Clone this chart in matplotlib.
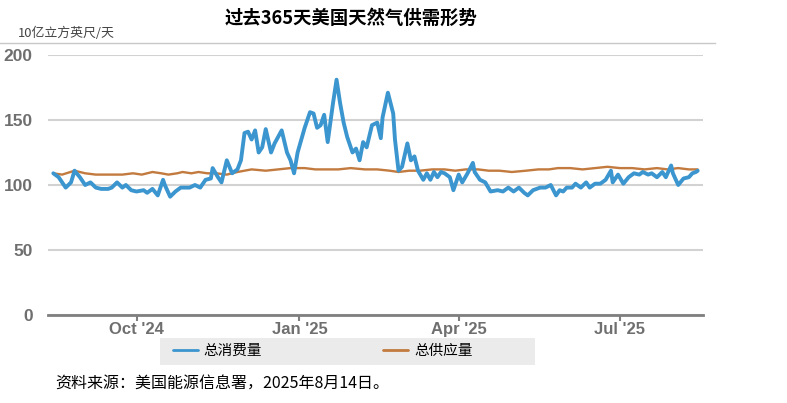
import numpy as np
import pandas as pd
import matplotlib
matplotlib.use('Agg')
import matplotlib.pyplot as plt
import matplotlib.dates as mdates
from matplotlib.patches import Rectangle

#**********************************************
''' data read off the chart (bcf/day) '''
#**********************************************
start = pd.Timestamp('2024-08-15')

# total consumption: day offset from start, value
demand_day = [0, 3, 7, 10, 12, 15, 18, 21, 24, 27, 31, 33, 36, 39, 41, 44, 47, 51,
              53, 56, 59, 62, 63, 66, 69, 72, 75, 77, 80, 83, 86, 89, 90, 93, 95,
              98, 101, 104, 106, 108, 110, 112, 114, 116, 118, 120, 123, 125, 129,
              132, 134, 136, 138, 142, 145, 147, 149, 151, 153, 155, 158, 160, 162,
              164, 166, 169, 171, 173, 175, 177, 180, 183, 185, 186, 189, 192, 193,
              195, 197, 200, 202, 204, 206, 209, 211, 213, 215, 217, 219, 221, 224,
              226, 229, 231, 234, 237, 238, 241, 244, 247, 251, 254, 257, 260, 263,
              266, 268, 271, 275, 278, 281, 284, 286, 288, 290, 293, 295, 298, 301,
              303, 306, 309, 312, 315, 316, 319, 322, 325, 328, 331, 333, 336, 338,
              341, 344, 346, 349, 350, 353, 356, 359, 361, 363, 364]
demand = [109, 106, 98, 102, 111, 106, 100, 102, 98, 97, 97, 98, 102, 98, 100, 96,
          95, 96, 94, 97, 92, 104, 100, 91, 95, 98, 98, 98, 100, 98, 104, 105, 113,
          106, 102, 119, 109, 112, 119, 140, 141, 135, 142, 125, 129, 143, 125, 132,
          142, 125, 119, 109, 125, 144, 156, 155, 144, 146, 154, 133, 163, 181, 163,
          148, 137, 125, 128, 119, 133, 129, 146, 148, 136, 152, 171, 155, 135, 111,
          114, 132, 119, 122, 111, 104, 109, 104, 110, 106, 110, 109, 106, 96, 108,
          102, 109, 117, 110, 104, 102, 95, 96, 95, 98, 95, 98, 94, 92, 96, 98, 98,
          100, 92, 96, 95, 98, 98, 101, 98, 102, 98, 101, 101, 104, 111, 102, 108,
          101, 106, 109, 108, 110, 108, 109, 106, 110, 106, 115, 109, 100, 105, 106,
          109, 110, 111]

# total supply
supply_day = [0, 5, 12, 18, 24, 30, 39, 45, 50, 56, 61, 65, 70, 73, 78, 82, 87, 92,
              98, 104, 112, 120, 127, 134, 142, 148, 155, 161, 168, 176, 183, 190,
              195, 201, 207, 214, 221, 227, 233, 240, 246, 252, 259, 267, 274, 280,
              285, 292, 299, 306, 313, 320, 327, 334, 341, 347, 353, 359, 364]
supply = [109, 108, 111, 109, 108, 108, 108, 109, 108, 110, 109, 108, 109, 110, 109,
          110, 109, 109, 108, 110, 112, 111, 112, 113, 113, 112, 112, 112, 113, 112,
          112, 111, 110, 111, 111, 112, 112, 111, 112, 112, 111, 111, 110, 111, 112,
          112, 113, 113, 112, 113, 114, 113, 113, 112, 113, 112, 113, 112, 112]

month_ticks = ['2024-10-01', '2025-01-01', '2025-04-01', '2025-07-01']

blue = '#3b95cf'
orange = '#c27a3e'

#**********************************************
''' plot '''
#**********************************************
plt.rcParams['font.family'] = ['Liberation Sans', 'Noto Sans CJK SC', 'DejaVu Sans']
cjk = ['Noto Sans CJK SC', 'DejaVu Sans']

fig = plt.figure(figsize=(7.87, 4.03), dpi=100)
ax = fig.add_axes([48/787, 1-315/403, 655/787, 260/403])

d_dates = start + pd.to_timedelta(demand_day, unit='D')
s_dates = start + pd.to_timedelta(supply_day, unit='D')

ax.plot(s_dates, supply, color=orange, lw=1.7, label='总供应量', zorder=3,
        solid_joinstyle='round', solid_capstyle='round')
ax.plot(d_dates, demand, color=blue, lw=2.8, label='总消费量', zorder=4,
        solid_joinstyle='round', solid_capstyle='round')

ax.set_ylim(0, 200)
ax.set_xlim(pd.Timestamp('2024-08-12'), pd.Timestamp('2025-08-17'))
ax.set_yticks([0, 50, 100, 150, 200])
ax.yaxis.grid(True, color='#d2d2d2', lw=1.5)
ax.set_axisbelow(True)
for s in ['top', 'right', 'left']:
    ax.spines[s].set_visible(False)
ax.spines['bottom'].set_color('#7f7f7f')
ax.spines['bottom'].set_linewidth(2)
ax.tick_params(axis='y', length=0, pad=11, labelsize=12.5, labelcolor='#6f6f6f')
ax.tick_params(axis='x', length=4, width=1.5, color='#7f7f7f', labelsize=12,
               labelcolor='#6f6f6f', pad=1)
ax.set_xticks(pd.to_datetime(month_ticks))
ax.xaxis.set_major_formatter(mdates.DateFormatter("%b '%y"))
for lab in ax.get_xticklabels() + ax.get_yticklabels():
    lab.set_fontweight('bold')

# title, unit, separator line
fig.text(351/787, 1-18/403, '过去365天美国天然气供需形势', ha='center', va='center',
         fontsize=13.2, fontweight='bold', family=cjk)
fig.text(18/787, 1-33/403, '10亿立方英尺/天', ha='left', va='center',
         fontsize=9.3, color='#444444', family=cjk)
fig.add_artist(plt.Line2D([0, 715/787], [1-43/403, 1-43/403], color='#c8c8c8', lw=1))

# legend box
fig.add_artist(Rectangle((160/787, 1-365/403), 375/787, 27/403,
                         transform=fig.transFigure, facecolor='#ebebeb',
                         edgecolor='none', zorder=0))
handles, labels = ax.get_legend_handles_labels()
leg = fig.legend(handles[::-1], labels[::-1], loc='center left',
                 bbox_to_anchor=(160/787, 1-351/403), ncol=2, frameon=False,
                 prop={'family': cjk, 'size': 10.5}, handlelength=1.7,
                 handletextpad=0.4, columnspacing=8.3)
for line in leg.get_lines():
    line.set_linewidth(2)

fig.text(55/787, 1-383/403, '资料来源：美国能源信息署，2025年8月14日。', ha='left',
         va='center', fontsize=11.5, family=cjk)

fig.savefig('out.png', dpi=100)
